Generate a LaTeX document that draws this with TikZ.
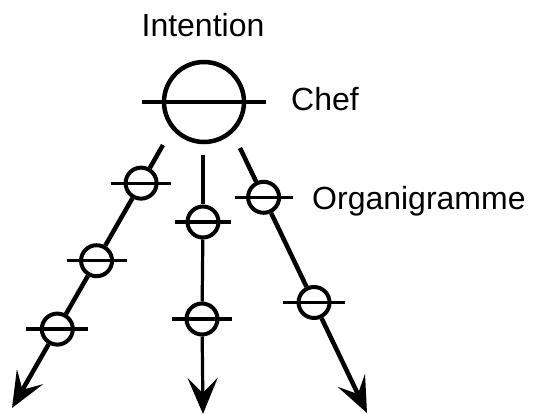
\documentclass[tikz,border=0pt]{standalone}
\usepackage{fontspec}
\setmainfont{Liberation Sans}
\usetikzlibrary{arrows.meta,calc}

\tikzset{
  label text/.style={inner sep=0pt, font=\fontsize{32pt}{38pt}\selectfont},
  head/.style={circle, draw, line width=4.5pt, minimum size=80pt, inner sep=0pt},
  unit/.style={circle, draw, line width=4pt, minimum size=31pt, inner sep=0pt},
  branch/.style={line width=4.5pt},
  thin branch/.style={line width=3.2pt},
  tip/.style={-{Stealth[length=36pt, width=30pt, inset=15pt]}},
}
% horizontal bar through a circle node: \crossbar{node}{half length}{line width}
\newcommand{\crossbar}[3]{\draw[line width=#3] ([xshift=-#2]#1.center) -- ([xshift=#2]#1.center);}

\begin{document}
\begin{tikzpicture}[x=1pt, y=-1pt]
  \useasboundingbox (0,0) rectangle (533,414);

  % the head (Chef)
  \node[head] (chef) at (204,102) {};
  \crossbar{chef}{62pt}{3.5pt}

  \node[label text, anchor=base] (intention) at (203,37) {Intention};
  \node[label text, anchor=base west] (cheflbl) at (291,111) {Chef};

  % branch end points
  \coordinate (lt) at (163,145);  \coordinate (la) at (12,408);
  \coordinate (mt) at (203,155);  \coordinate (ma) at (203,414);
  \coordinate (rt) at (240,148);  \coordinate (ra) at (367,413);

  % units along the left branch
  \node[unit] (l1) at ($(lt)!0.145!(la)$) {};
  \node[unit] (l2) at ($(lt)!0.44!(la)$) {};
  \node[unit] (l3) at ($(lt)!0.70!(la)$) {};
  % units along the middle branch
  \node[unit] (m1) at (203,222) {};
  \node[unit] (m2) at (202,319) {};
  % units along the right branch
  \node[unit] (r1) at ($(rt)!0.186!(ra)$) {};
  \node[unit] (r2) at ($(rt)!0.583!(ra)$) {};

  \crossbar{l1}{30pt}{3.2pt}
  \crossbar{l2}{30pt}{3.2pt}
  \crossbar{l3}{31pt}{3.2pt}
  \crossbar{m1}{28pt}{3.2pt}
  \crossbar{m2}{30pt}{3.2pt}
  \crossbar{r1}{29pt}{3.2pt}
  \crossbar{r2}{31pt}{3.2pt}

  \node[label text, anchor=base west] (orga) at (312,210) {Organigramme};

  % connectors
  \draw[branch] (lt) -- (l1);
  \draw[branch] (l1) -- (l2);
  \draw[branch] (l2) -- (l3);
  \draw[branch, tip] (l3) -- (la);

  \draw[thin branch] (mt) -- (m1);
  \draw[thin branch] (m1) -- (m2);
  \draw[thin branch, tip] (m2) -- (ma);

  \draw[branch] (rt) -- (r1);
  \draw[branch] (r1) -- (r2);
  \draw[branch, tip] (r2) -- (ra);
\end{tikzpicture}
\end{document}
